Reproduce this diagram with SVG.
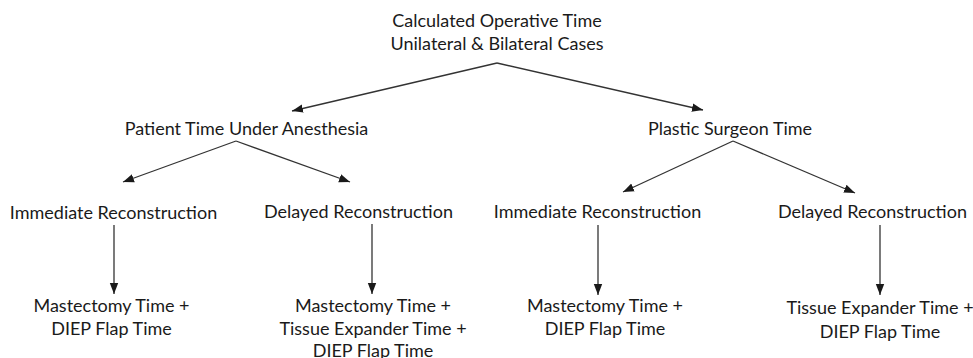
<svg xmlns="http://www.w3.org/2000/svg" width="973" height="358" viewBox="0 0 973 358">
<defs>
<style>
text{font-family:Lato,"Open Sans","Liberation Sans",sans-serif;font-size:18px;fill:#1a1a1a;text-anchor:middle}
.c{stroke:#333;stroke-width:1.3;fill:none;marker-end:url(#ah)}
</style>
<marker id="ah" markerUnits="userSpaceOnUse" markerWidth="12" markerHeight="10" viewBox="0 0 12 10" refX="11" refY="5" orient="auto">
<path d="M0,0.8 L11,5 L0,9.2 Z" fill="#1a1a1a"/>
</marker>
</defs>
<rect width="973" height="358" fill="#fff"/>
<g id="connectors">
<line class="c" x1="497" y1="63" x2="292" y2="111"/>
<line class="c" x1="497" y1="63" x2="703" y2="110"/>
<line class="c" x1="236" y1="141" x2="123" y2="182"/>
<line class="c" x1="236" y1="141" x2="350" y2="182"/>
<line class="c" x1="733" y1="141" x2="623" y2="192"/>
<line class="c" x1="733" y1="141" x2="855" y2="193"/>
<line class="c" x1="114" y1="225" x2="114" y2="294"/>
<line class="c" x1="372" y1="224" x2="372" y2="294"/>
<line class="c" x1="598" y1="225" x2="598" y2="295"/>
<line class="c" x1="880" y1="225" x2="880" y2="295"/>
</g>
<g id="root"><text x="497" y="27">Calculated Operative Time</text><text x="497" y="50">Unilateral &amp; Bilateral Cases</text></g>
<g id="patient"><text x="246.5" y="135">Patient Time Under Anesthesia</text></g>
<g id="plastic"><text x="730" y="135">Plastic Surgeon Time</text></g>
<g id="imm-left"><text x="113.5" y="219">Immediate Reconstruction</text></g>
<g id="del-left"><text x="358.5" y="218">Delayed Reconstruction</text></g>
<g id="imm-right"><text x="597.5" y="218">Immediate Reconstruction</text></g>
<g id="del-right"><text x="872.5" y="218">Delayed Reconstruction</text></g>
<g id="res-1"><text x="111.5" y="312">Mastectomy Time +</text><text x="111.5" y="335">DIEP Flap Time</text></g>
<g id="res-2"><text x="373" y="312">Mastectomy Time +</text><text x="373" y="334.5">Tissue Expander Time +</text><text x="373" y="357">DIEP Flap Time</text></g>
<g id="res-3"><text x="605" y="312">Mastectomy Time +</text><text x="605" y="335">DIEP Flap Time</text></g>
<g id="res-4"><text x="880" y="314">Tissue Expander Time +</text><text x="880" y="338">DIEP Flap Time</text></g>
</svg>
